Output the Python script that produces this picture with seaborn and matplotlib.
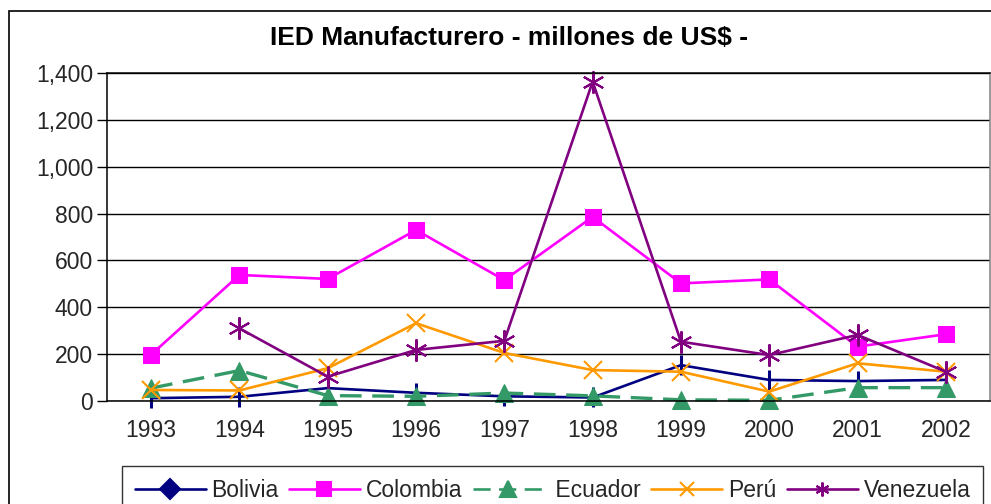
import matplotlib
matplotlib.use("Agg")
import matplotlib.pyplot as plt
from matplotlib.lines import Line2D
from matplotlib.patches import Rectangle
from matplotlib.ticker import FuncFormatter, MultipleLocator, FixedLocator
import numpy as np
import pandas as pd
import seaborn as sns

years = ["1993", "1994", "1995", "1996", "1997", "1998", "1999", "2000", "2001", "2002"]
bolivia = [12, 18, 55, 35, 20, 15, 153, 90, 85, 90]
colombia = [198, 538, 521, 730, 516, 786, 502, 519, 232, 285]
ecuador = [55, 130, 23, 20, 34, 22, 5, 3, 57, 57]
peru = [47, 45, 140, 332, 205, 132, 125, 40, 161, 125]
venezuela = [np.nan, 310, 104, 218, 257, 1363, 253, 196, 282, 125]

series = ["Bolivia", "Colombia", "Ecuador", "Perú", "Venezuela"]
values = [bolivia, colombia, ecuador, peru, venezuela]
colors = ["#000080", "#FF00FF", "#339966", "#FF9900", "#800080"]

df = pd.DataFrame({
    "pos": np.tile(np.arange(len(years)), len(series)),
    "valor": np.concatenate([np.array(v, dtype=float) for v in values]),
    "serie": np.repeat(series, len(years)),
})

sns.set_theme(style="white")
plt.rcParams["font.family"] = ["Liberation Sans", "DejaVu Sans"]

fig = plt.figure(figsize=(9.91, 5.04), dpi=100)
ax = fig.add_axes([107 / 991, 1 - 401 / 504, 883 / 991, 328 / 504])

# Outer chart frame
fig.patches.append(Rectangle((9 / 991, -0.1), 1.2, 1 - 11 / 504 + 0.1,
                             transform=fig.transFigure, fill=False,
                             edgecolor="black", linewidth=1.2, zorder=0))

lw = 1.9
styles = {
    "Bolivia": dict(marker="|", markersize=14, markeredgewidth=2.2),
    "Colombia": dict(marker="s", markersize=11.5),
    "Ecuador": dict(marker="^", markersize=12.5, dashes=(6.5, 3.2), linewidth=2.4),
    "Perú": dict(marker="x", markersize=13, markeredgewidth=1.5),
    "Venezuela": dict(marker=(6, 2, 0), markersize=16, markeredgewidth=1.5),
}

for name, col in zip(series, colors):
    sub = df[df["serie"] == name].dropna()
    kw = dict(linewidth=lw)
    kw.update(styles[name])
    sns.lineplot(data=sub, x="pos", y="valor", color=col, ax=ax,
                 markeredgecolor=col, markerfacecolor=col, clip_on=False,
                 legend=False, **kw)

ax.set_xlim(-0.5, len(years) - 0.5)
ax.set_ylim(0, 1400)
ax.yaxis.set_major_locator(MultipleLocator(200))
ax.yaxis.set_major_formatter(FuncFormatter(lambda v, p: f"{int(v):,}"))
ax.set_xticks(np.arange(len(years)))
ax.set_xticklabels(years)
ax.xaxis.set_minor_locator(FixedLocator(np.arange(-0.5, len(years), 1.0)))
ax.tick_params(axis="x", which="major", length=0, pad=13, labelsize=16.5)
ax.tick_params(axis="x", which="minor", length=7, width=1, color="#555555", direction="out")
ax.tick_params(axis="y", length=7, width=1, color="black", direction="out", left=True, labelsize=16.5, pad=3)
ax.set_xlabel("")
ax.set_ylabel("")

ax.grid(axis="y", color="black", linewidth=1)
ax.set_axisbelow(True)
for s in ["left", "bottom", "top"]:
    ax.spines[s].set_color("black")
    ax.spines[s].set_linewidth(1.1)
ax.spines["right"].set_color("#808080")
ax.spines["right"].set_linewidth(1.1)

fig.text(509 / 991, 1 - 38 / 504, "IED Manufacturero - millones de US$ -",
         ha="center", va="center", fontsize=19, fontweight="bold", color="black")

legend_markers = ["D", "s", "^", "x", (6, 2, 0)]
legend_labels = ["Bolivia", "Colombia", " Ecuador", "Perú", "Venezuela"]
handles = []
for name, col, m in zip(series, colors, legend_markers):
    ls = (0, (6.5, 3.2)) if name == "Ecuador" else "-"
    handles.append(Line2D([0], [0], color=col, linewidth=lw, linestyle=ls, marker=m,
                          markersize=10 if m != "^" else 12,
                          markeredgewidth=1.5, markerfacecolor=col, markeredgecolor=col))
leg = fig.legend(handles=handles, labels=legend_labels, ncol=5, loc="upper left",
                 bbox_to_anchor=(122 / 991, 1 - 466 / 504), frameon=True,
                 fontsize=16.5, handlelength=3.1, columnspacing=0.45, handletextpad=0.25,
                 borderpad=0.55, borderaxespad=0, fancybox=False)
leg.get_frame().set_edgecolor("black")
leg.get_frame().set_linewidth(1.0)

fig.savefig("out.png", dpi=100)
